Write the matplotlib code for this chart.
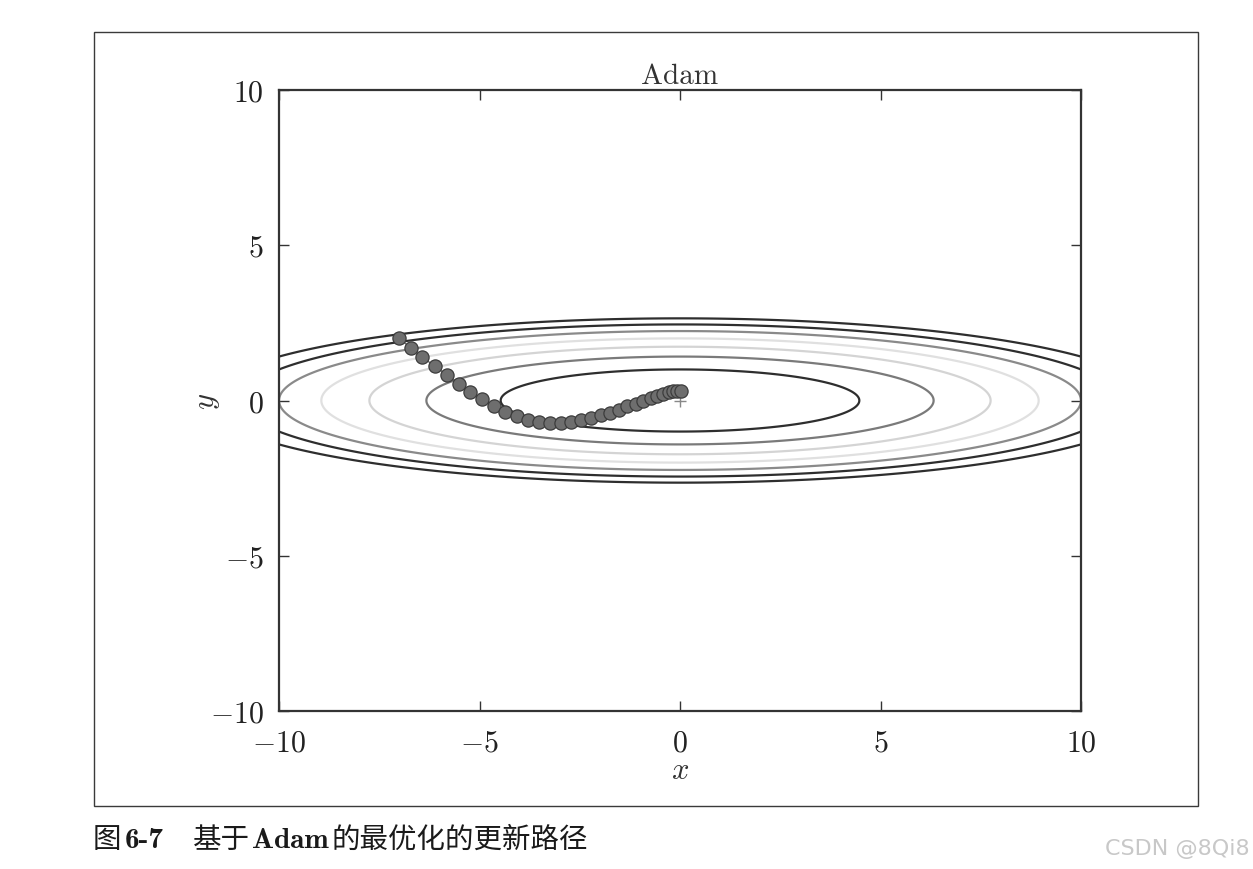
import numpy as np
import matplotlib
matplotlib.use("Agg")
import matplotlib.pyplot as plt
from matplotlib.patches import Rectangle
from matplotlib.offsetbox import TextArea, HPacker, AnchoredOffsetbox

plt.rcParams['mathtext.fontset'] = 'cm'
plt.rcParams['font.family'] = ['cmr10', 'DejaVu Serif']
plt.rcParams['axes.formatter.use_mathtext'] = True

# ---- data ----
title = "Adam"
x_path = [-7.00, -6.72, -6.43, -6.11, -5.81, -5.52, -5.24, -4.93, -4.64, -4.36,
          -4.07, -3.78, -3.51, -3.24, -2.98, -2.72, -2.47, -2.22, -1.98, -1.75,
          -1.53, -1.31, -1.10, -0.92, -0.73, -0.57, -0.42, -0.28, -0.17, -0.07, 0.02]
y_path = [2.00, 1.70, 1.40, 1.10, 0.82, 0.53, 0.28, 0.04, -0.18, -0.36,
          -0.51, -0.62, -0.69, -0.71, -0.71, -0.69, -0.63, -0.56, -0.48, -0.39,
          -0.29, -0.19, -0.10, -0.01, 0.07, 0.14, 0.21, 0.26, 0.29, 0.31, 0.31]
contour_levels = [1, 2, 3, 4, 5, 6, 7]
contour_colors = ['#2e2e2e', '#7a7a7a', '#d4d4d4', '#e0e0e0', '#8a8a8a', '#2e2e2e', '#2e2e2e']
x_ticks = [-10, -5, 0, 5, 10]
y_ticks = [-10, -5, 0, 5, 10]
caption_parts = ["图", "6-7", "\u3000", "基于", "Adam", "的最优化的更新路径"]
watermark = "CSDN @8Qi8"

W, H = 1253, 870
fig = plt.figure(figsize=(W / 100, H / 100), dpi=100)
fig.patch.set_facecolor('white')

# outer frame
fig.add_artist(Rectangle((94 / W, 1 - 807 / H), (1198 - 94) / W, (807 - 33) / H,
                         transform=fig.transFigure, fill=False,
                         edgecolor='#3a3a3a', linewidth=1.0))

ax = fig.add_axes([279 / W, 1 - 712 / H, (1081 - 279) / W, (712 - 91) / H])

# objective function surface for contours
gx = np.linspace(-10, 10, 600)
gy = np.linspace(-5, 5, 400)
X, Y = np.meshgrid(gx, gy)
Z = X ** 2 / 20.0 + Y ** 2
ax.contour(X, Y, Z, levels=contour_levels, colors=contour_colors, linewidths=1.6)

ax.plot(x_path, y_path, 'o-', color='#6a6a6a', markersize=9.5,
        markerfacecolor='#6e6e6e', markeredgecolor='#3c3c3c', markeredgewidth=0.9,
        linewidth=1.0, zorder=3)
ax.plot([0], [0], '+', color='#888888', markersize=9, markeredgewidth=1.0, zorder=2)

ax.set_xlim(-10, 10)
ax.set_ylim(-10, 10)
ax.set_xticks(x_ticks)
ax.set_yticks(y_ticks)
ax.set_xticklabels([f"${v}$" if v >= 0 else f"$-{abs(v)}$" for v in x_ticks])
ax.set_yticklabels([f"${v}$" if v >= 0 else f"$-{abs(v)}$" for v in y_ticks])
ax.tick_params(direction='in', length=7, width=1.0, colors='#333333',
               labelcolor='#222222', labelsize=21.5, top=True, right=True)
ax.tick_params(axis='x', pad=13)
ax.tick_params(axis='y', pad=11)
for s in ax.spines.values():
    s.set_linewidth(1.6)
    s.set_color('#333333')

ax.set_title(title, fontsize=21, color='#333333', pad=5)
ax.set_xlabel("$x$", fontsize=22, color='#333333', labelpad=0)
ax.set_ylabel("$y$", fontsize=22, color='#333333', labelpad=-9)

# caption
cjk = ['Noto Sans CJK SC', 'DejaVu Sans']
props = [
    dict(family=cjk, size=20.5, color='#1a1a1a'),
    dict(family=['cmb10', 'DejaVu Serif'], size=21, color='#1a1a1a'),
    dict(family=cjk, size=17, color='#1a1a1a'),
    dict(family=cjk, size=20.5, color='#1a1a1a'),
    dict(family=['cmb10', 'DejaVu Serif'], size=21, color='#1a1a1a'),
    dict(family=cjk, size=20.5, color='#1a1a1a'),
]
areas = [TextArea(t, textprops=p) for t, p in zip(caption_parts, props)]
pack = HPacker(children=areas, align='baseline', pad=0, sep=2)
ab = AnchoredOffsetbox(loc='center left', child=pack, pad=0, frameon=False,
                       bbox_to_anchor=(93 / W, 1 - 840 / H),
                       bbox_transform=fig.transFigure, borderpad=0)
fig.add_artist(ab)

fig.text(1250 / W, 1 - 849 / H, watermark, ha='right', va='center',
         fontsize=16, color='#c8c8c8', family=['DejaVu Sans'])

fig.savefig("out.png", dpi=100, facecolor='white')
